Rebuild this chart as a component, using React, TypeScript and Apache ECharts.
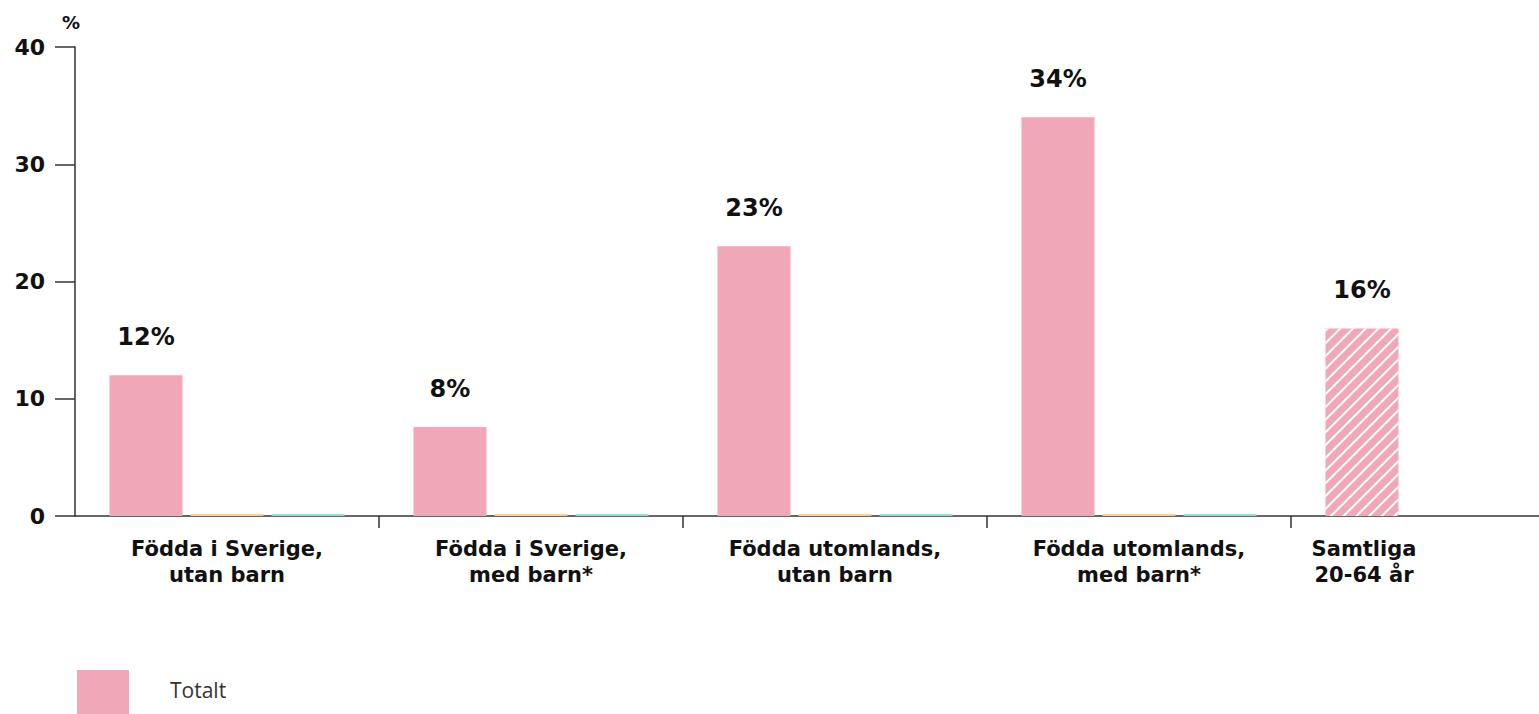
import React, { useEffect, useRef } from "react";
import * as echarts from "echarts";

const categories = [
  "Födda i Sverige,\nutan barn",
  "Födda i Sverige,\nmed barn*",
  "Födda utomlands,\nutan barn",
  "Födda utomlands,\nmed barn*",
  "Samtliga\n20-64 år",
];
const totalt = [12, 7.6, 23, 34, 16];
const totaltLabels = ["12%", "8%", "23%", "34%", "16%"];
const kvinnor = [0, 0, 0, 0, null];
const man = [0, 0, 0, 0, null];
const yMin = 0;
const yMax = 40;
const yStep = 10;

const BOLD = "'DejaVu Sans', 'Noto Sans', sans-serif";

export default function App() {
  const ref = useRef<HTMLDivElement>(null);
  useEffect(() => {
    if (!ref.current) return;
    const chart = echarts.init(ref.current, null, { renderer: "svg" });
    const axisColor = "#333333";
    chart.setOption({
      animation: false,
      backgroundColor: "#ffffff",
      grid: {
        left: 75,
        top: 47,
        height: 469,
        width: 1520,
        containLabel: false,
        outerBoundsMode: "none",
      },
      legend: {
        data: ["Totalt"],
        orient: "vertical",
        left: 77,
        top: 670,
        padding: 0,
        itemWidth: 52,
        itemHeight: 52,
        icon: "rect",
        formatter: (name: string) => "{a|" + name + "}",
        textStyle: {
          padding: [0, 0, 0, 36],
          rich: {
            a: {
              fontSize: 21,
              color: "#333",
              fontFamily: "'Open Sans', sans-serif",
              padding: [0, 0, 12, 0],
            },
          },
        },
      },
      xAxis: {
        type: "category",
        data: categories.map((c, i) =>
          i === 4 ? { value: c, textStyle: { padding: [0, 158, 0, 0] } } : c
        ),
        axisLine: { lineStyle: { color: axisColor, width: 1.5 } },
        axisTick: {
          show: true,
          length: 12,
          interval: (i: number) => i > 0,
          lineStyle: { color: axisColor, width: 1.5 },
        },
        axisLabel: {
          interval: 0,
          fontSize: 21,
          fontWeight: "bold",
          fontFamily: BOLD,
          color: "#111",
          lineHeight: 26,
          margin: 20,
        },
      },
      yAxis: {
        type: "value",
        min: yMin,
        max: yMax,
        interval: yStep,
        name: "%",
        nameLocation: "end",
        nameGap: 16,
        nameTextStyle: {
          fontSize: 18,
          fontWeight: "bold",
          fontFamily: BOLD,
          color: "#111",
          padding: [0, 8, 0, 0],
        },
        axisLine: { show: true, lineStyle: { color: axisColor, width: 1.5 } },
        axisTick: { show: true, length: 20, lineStyle: { color: axisColor, width: 1.5 } },
        splitLine: { show: false },
        axisLabel: {
          fontSize: 22,
          fontWeight: "bold",
          fontFamily: BOLD,
          color: "#111",
          margin: 30,
        },
      },
      series: [
        {
          name: "Totalt",
          type: "bar",
          barWidth: 73,
          barGap: "11%",
          itemStyle: { color: "#F0A8B9" },
          data: totalt.map((v, i) =>
            i === 4
              ? {
                  value: v,
                  itemStyle: {
                    color: "#F0A8B9",
                    decal: {
                      symbol: "rect",
                      symbolSize: 1,
                      dashArrayX: [1, 0],
                      dashArrayY: [2, 7],
                      rotation: -Math.PI / 4,
                      color: "#ffffff",
                    },
                  },
                }
              : v
          ),
          label: {
            show: true,
            position: "top",
            distance: 26,
            formatter: (p: any) => totaltLabels[p.dataIndex],
            fontSize: 24,
            fontWeight: "bold",
            fontFamily: BOLD,
            color: "#111",
          },
        },
        {
          name: "Kvinnor",
          type: "bar",
          barWidth: 73,
          barGap: "11%",
          barMinHeight: 2,
          itemStyle: { color: "#FFCC99" },
          data: kvinnor,
        },
        {
          name: "Män",
          type: "bar",
          barWidth: 73,
          barGap: "11%",
          barMinHeight: 2,
          itemStyle: { color: "#99DDDD" },
          data: man,
        },
      ],
    });
    return () => chart.dispose();
  }, []);
  return (
    <div
      ref={ref}
      style={{ position: "fixed", left: 0, top: 0, width: 1539, height: 714 }}
    />
  );
}
